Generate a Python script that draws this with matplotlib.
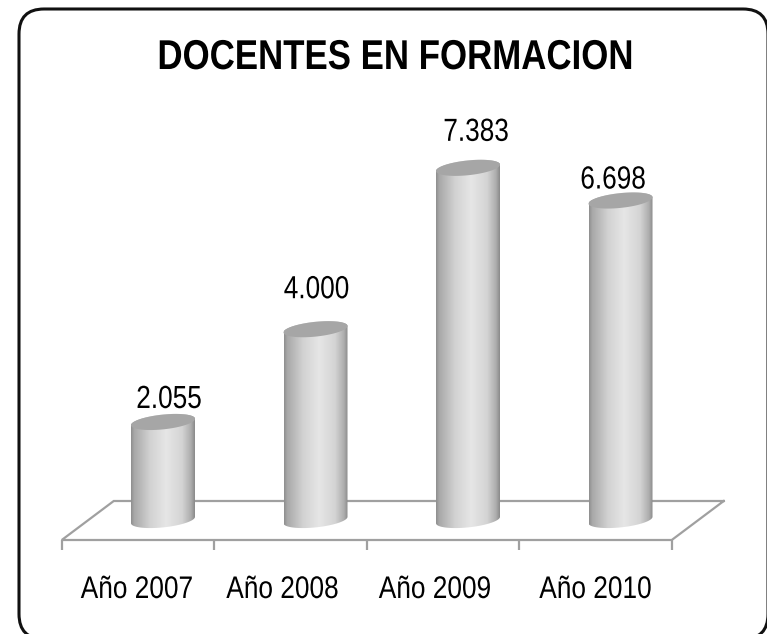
import numpy as np
import matplotlib
matplotlib.use("Agg")
import matplotlib.pyplot as plt
from matplotlib.path import Path
from matplotlib.patches import PathPatch, FancyBboxPatch
from matplotlib.patheffects import AbstractPathEffect
from matplotlib.transforms import Affine2D
from matplotlib.colors import LinearSegmentedColormap

categories = ["Año 2007", "Año 2008", "Año 2009", "Año 2010"]
values = [2055, 4000, 7383, 6698]
value_labels = ["2.055", "4.000", "7.383", "6.698"]
title = "DOCENTES EN FORMACION"

W, H = 767, 634
PX_PER_CAT = 152.5
PX_PER_VAL = 0.0477
X0, Y0 = 138, 520   # pixel of category 0 centre at the axis / value 0

plt.rcParams['font.family'] = ['Liberation Sans', 'DejaVu Sans']
fig = plt.figure(figsize=(W / 100, H / 100), dpi=100, facecolor='white')
ax = fig.add_axes([0, 0, 1, 1])
xlim = (-X0 / PX_PER_CAT, (W - X0) / PX_PER_CAT)
ylim = ((Y0 - H) / PX_PER_VAL, Y0 / PX_PER_VAL)
ax.set_xlim(*xlim)
ax.set_ylim(*ylim)
ax.axis('off')

dx = lambda p: p / PX_PER_CAT
dy = lambda p: -p / PX_PER_VAL   # p positive = downward in pixels


class Condense(AbstractPathEffect):
    """Horizontally condense a text about a display-space x position."""
    def __init__(self, sx, cx):
        super().__init__()
        self.sx, self.cx = sx, cx

    def draw_path(self, renderer, gc, tpath, affine, rgbFace=None):
        squeeze = Affine2D().translate(-self.cx, 0).scale(self.sx, 1).translate(self.cx, 0)
        renderer.draw_path(gc, tpath, affine + squeeze, rgbFace)


def label(x, y, s, fontsize, sx, **kw):
    cx = ax.transData.transform((x, y))[0]
    ax.text(x, y, s, ha='center', va='baseline', fontsize=fontsize, color='black', zorder=4,
            path_effects=[Condense(sx, cx)], **kw)


# outer rounded frame (pixel based)
ax_px = Affine2D().scale(1, -1).translate(0, H)
R = 25
frame = FancyBboxPatch((19 + R, 9 + R), 768 - 19 - 2 * R, 639 - 9 - 2 * R,
                       boxstyle=f"round,pad={R},rounding_size={R}",
                       fc='white', ec='#111111', lw=2.2, transform=ax_px, zorder=0, clip_on=False)
ax.add_patch(frame)

# floor
GREY = '#a0a0a0'
n = len(categories)
x_l, x_r = -0.5, n - 0.5
front = dy(20)
depth_x, depth_y = dx(52), dy(-39)
ax.plot([x_r + depth_x, x_l + depth_x, x_l, x_r, x_r + depth_x],
        [front + depth_y, front + depth_y, front, front, front + depth_y],
        color=GREY, lw=1.6, solid_joinstyle='miter', zorder=1)
for t in np.arange(n + 1) - 0.5:
    ax.plot([t, t], [front, front + dy(9.5)], color=GREY, lw=1.6, solid_capstyle='butt', zorder=1)

# cylinders
cmap = LinearSegmentedColormap.from_list('cyl', [
    (0.00, '#8e8e8e'), (0.05, '#a8a8a8'), (0.30, '#d2d2d2'), (0.55, '#e6e6e6'),
    (0.80, '#d4d4d4'), (0.94, '#adadad'), (1.00, '#8a8a8a')])
grad = np.linspace(0, 1, 256).reshape(1, -1)
bar_off = dx(25)
half = dx(32)
t = np.linspace(0, 2 * np.pi, 121)


def ell(cx, cy, ts):
    return cx + half * np.cos(ts), cy + dy(-3.2) * np.cos(ts) + dy(-7.4) * np.sin(ts)


label_offsets = [(6, 14), (1, 31), (8, 27), (-7.5, 12)]   # pixel offsets of the value labels
for i, v in enumerate(values):
    cx = i + bar_off
    xb, yb = ell(cx, 0, np.linspace(0, -np.pi, 61))
    xt, yt = ell(cx, v, np.linspace(np.pi, 0, 61))
    verts = np.column_stack([np.r_[xb, xt], np.r_[yb, yt]])
    clip = PathPatch(Path(np.vstack([verts, verts[0]])), fc='none', ec='none', transform=ax.transData)
    ax.add_patch(clip)
    im = ax.imshow(grad, extent=[cx - half, cx + half, dy(30), v + dy(-30)],
                   cmap=cmap, vmin=0, vmax=1, aspect='auto', zorder=2, interpolation='bilinear')
    im.set_clip_path(clip)
    ex, ey = ell(cx, v, t)
    ax.fill(ex, ey, color='#a6a6a6', lw=0, zorder=3)
    ox, oy = label_offsets[i]
    label(cx + dx(ox), v + dy(-oy), value_labels[i], 23, 0.82)

ax.set_xlim(*xlim)
ax.set_ylim(*ylim)

cat_offsets = [-1, -8, -8, 0]   # pixel offsets of the category labels
for i, c in enumerate(categories):
    label(i + dx(cat_offsets[i]), dy(78), c, 22.5, 0.84)

label(xlim[0] + dx(395), ylim[0] + dy(69 - H), title, 30, 0.836, fontweight='bold')

fig.savefig('out.png', dpi=100, facecolor='white')
